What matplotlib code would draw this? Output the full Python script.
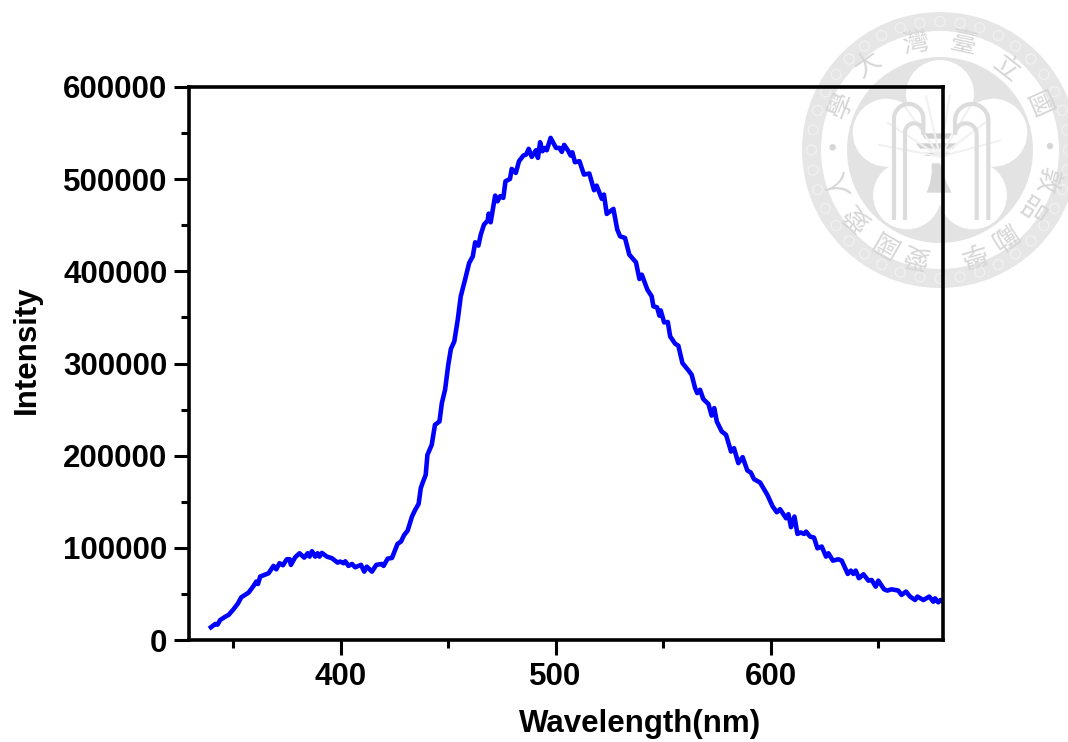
import numpy as np
import matplotlib
matplotlib.use('Agg')
import matplotlib.pyplot as plt
from matplotlib.patches import Circle, Polygon
from matplotlib.ticker import MultipleLocator

wavelength = [
    339.7, 341.7, 342.8, 344.0, 346.4, 347.9, 350.2, 352.3, 353.8, 357.2, 359.5, 360.8, 361.6, 362.6, 366.5,
    368.8, 370.1, 371.6, 373.2, 375.0, 376.3, 376.9, 378.9, 380.9, 383.1, 384.7, 385.6, 386.7, 388.2, 389.3,
    390.2, 391.3, 393.6, 396.0, 398.6, 399.8, 401.4, 402.2, 403.7, 405.3, 406.8, 409.5, 411.0, 412.2, 414.6,
    416.6, 419.2, 420.0, 421.9, 423.9, 425.4, 426.5, 428.1, 429.6, 431.2, 433.2, 434.7, 436.3, 437.3, 438.2,
    439.6, 440.4, 442.4, 443.9, 446.0, 447.1, 448.6, 450.1, 451.3, 452.9, 454.5, 455.9, 457.9, 459.8, 461.5,
    462.6, 464.1, 465.2, 466.7, 468.4, 468.9, 469.8, 471.9, 473.0, 474.2, 475.7, 476.7, 478.8, 479.6, 481.5,
    483.0, 485.0, 486.3, 487.5, 488.9, 490.9, 491.8, 492.8, 493.9, 495.1, 495.9, 497.7, 500.2, 501.8, 502.9,
    504.0, 506.0, 507.0, 507.8, 509.0, 511.1, 513.2, 515.7, 517.9, 519.1, 521.5, 522.5, 523.8, 526.9, 528.7,
    530.0, 532.3, 534.3, 537.4, 539.0, 540.1, 542.7, 544.7, 545.5, 547.2, 548.3, 548.9, 550.5, 552.2, 553.3,
    555.6, 557.1, 559.0, 561.8, 563.3, 564.9, 565.9, 567.2, 568.7, 571.1, 572.6, 573.8, 575.0, 577.3, 579.3,
    581.6, 583.0, 585.0, 587.0, 589.2, 590.8, 592.3, 595.1, 598.5, 601.0, 602.9, 604.4, 607.2, 608.3, 609.5,
    611.1, 612.5, 614.0, 615.6, 616.5, 618.4, 620.2, 621.8, 623.8, 625.8, 626.9, 629.0, 631.5, 633.1, 635.9,
    637.3, 638.5, 639.6, 641.1, 643.2, 645.5, 647.0, 648.9, 650.1, 652.8, 654.3, 656.3, 659.4, 660.9, 663.0,
    664.9, 667.2, 668.3, 671.1, 673.8, 675.7, 676.5, 678.0, 679.1, 680.0,
]
intensity = [
    13800, 17400, 16700, 21700, 25300, 27200, 33300, 39800, 46300, 51400, 58600, 63400, 60800, 68800, 72400,
    80400, 76700, 83300, 81100, 87600, 87600, 81500, 89800, 94100, 89400, 94100, 90500, 96300, 90500, 94100,
    90500, 94500, 90500, 88700, 84000, 85100, 83300, 85400, 80400, 82500, 78900, 81500, 74200, 79600, 74200,
    81500, 82500, 80400, 88300, 89000, 97700, 104300, 106800, 114000, 118700, 133900, 141200, 147700, 164700, 170800,
    179200, 200900, 211800, 233500, 237100, 257000, 271500, 298700, 315700, 324000, 347500, 372900, 391000, 409000, 416300,
    431500, 427900, 439800, 450700, 455000, 462600, 453200, 482200, 476000, 481500, 479700, 497700, 500300, 511100, 506800,
    519500, 525600, 526700, 532900, 524200, 531400, 523100, 540100, 530300, 533900, 531400, 544800, 533900, 533900, 529600,
    537200, 530300, 525600, 529200, 518400, 519500, 505000, 506100, 488000, 493000, 478600, 483300, 462300, 467700, 445300,
    438000, 436200, 418100, 409800, 391700, 396400, 380100, 372900, 362000, 361000, 351900, 357600, 344600, 345000, 329400,
    321500, 319300, 300500, 292500, 287800, 273300, 267900, 271500, 261400, 256000, 243500, 251600, 237000, 226200, 222600,
    204500, 208100, 191900, 198400, 183900, 181700, 174500, 170900, 157500, 144800, 138600, 141900, 132100, 136500, 122400,
    133900, 115100, 116600, 115100, 117600, 112200, 111100, 99500, 101400, 90500, 94100, 86100, 87600, 86100, 71700,
    75300, 71700, 75300, 67000, 71300, 64400, 65100, 57900, 64400, 55000, 53600, 55000, 53600, 48900, 52500,
    47100, 43400, 47100, 43400, 47100, 41600, 45200, 40900, 43400, 42000,
]
seal_text = [
    ('學', 155, 315, 68), ('大', 235, 195, 35), ('灣', 375, 130, 10), ('臺', 520, 130, -12),
    ('立', 650, 205, -38), ('國', 745, 315, -66), ('人', 145, 550, 108), ('愛', 200, 650, 135),
    ('國', 285, 725, 150), ('愛', 375, 765, 165), ('學', 545, 760, -163), ('勵', 640, 705, -145),
    ('品', 720, 625, -122), ('敦', 770, 540, -105),
]

RING = '#e6e6e6'
FILL = '#e3e3e3'
MARK = '#d6d6d6'


def z(x, y):
    # crop coordinates of the seal to figure pixels
    return 790 + np.asarray(x) / 3, np.asarray(y) / 3


def arch(bg, x_left, x_right, top, low_left, low_right, lw):
    t = np.radians(np.linspace(180, 0, 30))
    cx = (x_left + x_right) / 2
    rx = (x_right - x_left) / 2
    xs = np.r_[x_left, cx + rx * np.cos(t), x_right]
    ys = np.r_[low_left, top + rx - rx * np.sin(t), low_right]
    px, py = z(xs, ys)
    bg.plot(px, py, color='#dcdcdc', lw=lw, solid_capstyle='butt')


def draw_seal(fig):
    bg = fig.add_axes([0, 0, 1, 1], zorder=0)
    bg.set_xlim(0, 1068)
    bg.set_ylim(742, 0)
    bg.axis('off')
    cx, cy = z(450, 450)

    bg.add_patch(Circle((cx, cy), 138, fc=RING, ec='none'))
    for a in np.arange(0, 360, 9):
        px = cx + 128.5 * np.cos(np.radians(a))
        py = cy + 128.5 * np.sin(np.radians(a))
        bg.add_patch(Circle((px, py), 5, fc='none', ec='#f1f1f1', lw=0.9))
    bg.add_patch(Circle((cx, cy), 119, fc='white', ec='none'))
    bg.add_patch(Circle((cx, cy), 93, fc=FILL, ec='none'))

    # plum blossom petals
    for a in [90, 162, 234, 306, 18]:
        px = cx + 56 * np.cos(np.radians(a))
        py = cy - 56 * np.sin(np.radians(a))
        bg.add_patch(Circle((px, py), 34, fc='white', ec='none'))
    bg.add_patch(Circle((cx, cy), 42, fc='white', ec='none'))

    # palm fronds
    for a in np.arange(15, 170, 22):
        x0, y0 = z(450, 470)
        bg.plot([x0, x0 + 62 * np.cos(np.radians(a))], [y0, y0 - 62 * np.sin(np.radians(a))],
                color='#f1f1f1', lw=1.5)

    # arches of the gate
    arch(bg, 312, 400, 312, 660, 400, 3)
    arch(bg, 345, 400, 370, 660, 405, 3)
    arch(bg, 495, 595, 312, 400, 660, 3)
    arch(bg, 495, 560, 370, 405, 660, 3)

    # tripod and bell
    for y, w, h in [(400, 45, 16), (430, 62, 16), (458, 40, 10)]:
        px, py = z(np.array([440 - w, 440 + w, 440 + w * 0.8, 440 - w * 0.8]),
                   np.array([y, y, y + h, y + h]))
        bg.add_patch(Polygon(np.c_[px, py], fc='#d0d0d0', ec='none'))
    px, py = z(np.array([425, 450, 460, 470, 485, 410, 420, 425]),
               np.array([490, 490, 520, 550, 578, 578, 550, 520]))
    bg.add_patch(Polygon(np.c_[px, py], fc='#d8d8d8', ec='none'))

    # two dots and the characters of the text band
    for x, y in [(128, 442), (780, 438)]:
        px, py = z(x, y)
        bg.add_patch(Circle((px, py), 3.2, fc=MARK, ec='none'))
    for ch, x, y, rot in seal_text:
        px, py = z(x, y)
        bg.text(px, py, ch, fontsize=19, color=MARK, rotation=rot, ha='center', va='center',
                family=['Noto Sans CJK TC', 'DejaVu Sans'], rotation_mode='anchor')


fig = plt.figure(figsize=(10.68, 7.42), dpi=100)
plt.rcParams['font.family'] = ['Liberation Sans', 'DejaVu Sans']
draw_seal(fig)

ax = fig.add_axes([189 / 1068, (742 - 640) / 742, (943 - 189) / 1068, (640 - 87) / 742], zorder=1)
ax.patch.set_alpha(0)
ax.plot(wavelength, intensity, color='#0000ff', lw=3.3, solid_joinstyle='round')
ax.set_xlim(329.5, 680.2)
ax.set_ylim(0, 600000)
ax.xaxis.set_major_locator(MultipleLocator(100))
ax.xaxis.set_minor_locator(MultipleLocator(50))
ax.yaxis.set_major_locator(MultipleLocator(100000))
ax.yaxis.set_minor_locator(MultipleLocator(50000))
ax.tick_params(which='major', length=10.5, width=2.2, labelsize=22.5, pad=5)
ax.tick_params(which='minor', length=5.8, width=2.2)
for s in ax.spines.values():
    s.set_linewidth(2.6)
for lab in ax.get_xticklabels() + ax.get_yticklabels():
    lab.set_fontweight('bold')
fig.text(640 / 1068, 1 - 724 / 742, 'Wavelength(nm)', fontsize=22.5, fontweight='bold', ha='center', va='center')
fig.text(27 / 1068, 1 - 350 / 742, 'Intensity', fontsize=22.5, fontweight='bold', rotation=90, ha='center', va='center')

fig.savefig('out.png', dpi=100)
